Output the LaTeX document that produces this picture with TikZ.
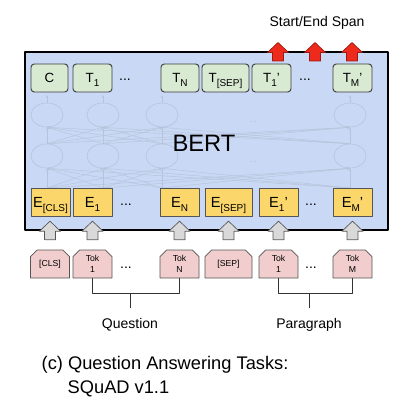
\documentclass[tikz,border=0pt]{standalone}
\usepackage{fontspec}
\setmainfont{Liberation Sans}
\usepackage{tikz}
\usetikzlibrary{arrows.meta,positioning,calc,shapes.misc,shapes.geometric}
\definecolor{bertblue}{HTML}{C9D9F5}
\definecolor{outgreen}{HTML}{D9EAD3}
\definecolor{embyellow}{HTML}{FBD66B}
\definecolor{tokpink}{HTML}{F1CDCD}
\definecolor{netgray}{HTML}{B7C3DB}
\definecolor{arrowgray}{HTML}{D9D9D9}
\definecolor{spanred}{HTML}{EE2A1C}
\definecolor{darkred}{HTML}{9A1B12}
\definecolor{edgegray}{HTML}{555555}
\newcommand{\lowsub}[1]{\raisebox{-3.3pt}{\fontsize{7.5}{8}\selectfont #1}}
\tikzset{
    every picture/.style={line join=round},
    bertbox/.style={draw=black,fill=bertblue,line width=1.2pt},
    outcell/.style={draw=edgegray!70!black,fill=outgreen,line width=0.7pt,rounded corners=2.5pt,
      minimum height=21pt,inner sep=1pt,text depth=0pt,font=\fontsize{10}{12}\selectfont},
    embcell/.style={draw=edgegray,fill=embyellow,line width=0.6pt,
      minimum height=21pt,inner sep=1pt,text depth=0pt,font=\fontsize{11}{13}\selectfont},
    tokcell/.style={chamfered rectangle,chamfered rectangle corners={north west,north east},
      chamfered rectangle xsep=2.5pt,chamfered rectangle ysep=2.5pt,
      draw=edgegray,fill=tokpink,line width=0.5pt,minimum height=21pt,inner sep=1pt,
      align=center,font=\fontsize{6.5}{8.5}\selectfont},
    neuron/.style={ellipse,draw=netgray,line width=0.45pt,minimum width=24pt,minimum height=18pt,inner sep=0pt},
    netline/.style={draw=netgray,line width=0.35pt,-{Stealth[length=2.2pt,width=1.8pt]}},
    bracket/.style={draw=black!80,line width=0.6pt},
    blockup/.pic={\draw[pic actions] (-5.5,0) -- (-5.5,-8.5) -- (-10.5,-8.5) -- (0,-18.5)
      -- (10.5,-8.5) -- (5.5,-8.5) -- (5.5,0) -- cycle;}
}

\begin{document}
\begin{tikzpicture}[x=0.75pt,y=-0.75pt,font=\fontsize{10.5}{12}\selectfont]
  \useasboundingbox (0,0) rectangle (407,416);
  \node[anchor=base] (span) at (317,27) {Start/End Span};
  \draw[bertbox] (25,52) rectangle (388,230);
  % faded transformer layers
  \foreach \x [count=\k] in {47,103,162,350}{
    \node[neuron] (u\k) at (\x,115) {};
    \node[neuron] (l\k) at (\x,156) {};
    \coordinate (o\k) at (\x,95);
    \coordinate (b\k) at (\x,188);
  }
  \foreach \i in {1,...,4}{
    \draw[netline] (u\i.north) -- (o\i);
    \foreach \j in {1,...,4}{
      \draw[netline] (l\j.north) -- (u\i.south);
      \draw[netline] (b\j) -- (l\i.south);
    }
  }
  \node[text=netgray,font=\fontsize{7}{8}\selectfont] (ndots1) at (253,122) {...};
  \node[text=netgray,font=\fontsize{7}{8}\selectfont] (ndots2) at (253,162) {...};
  \node[anchor=base,font=\fontsize{17.8}{20}\selectfont] (bert) at (204,152) {BERT};
  % output, embedding and token rows
  \foreach \n/\x/\w/\t in {c/49.5/27.75/C,t1/92.5/29.25/{T\lowsub{1}},tn/180/28.5/{T\lowsub{N}},
      tsep/225.5/35.25/{T\lowsub{[SEP]}},tp1/271.5/29.25/{T\lowsub{1}'},tpm/352.5/29.25/{T\lowsub{M}'}}
    \node[outcell,minimum width=\w pt] (\n) at (\x,78) {\t};
  \foreach \n/\x/\w/\t in {ecls/50.5/29.25/{E\lowsub{[CLS]}},e1/92.5/29.25/{E\lowsub{1}},en/179.5/29.25/{E\lowsub{N}},
      esep/228.5/35.25/{E\lowsub{[SEP]}},ep1/278.5/29.25/{E\lowsub{1}'},epm/352.5/29.25/{E\lowsub{M}'}}
    \node[embcell,minimum width=\w pt] (\n) at (\x,202) {\t};
  \foreach \n/\x/\w/\t in {kcls/50/29.25/{[CLS]},k1/92.5/29.25/{Tok\\1},kn/179.5/29.25/{Tok\\N},
      ksep/228.5/35.25/{[SEP]},kp1/278.5/29.25/{Tok\\1},kpm/352.5/29.25/{Tok\\M}}
    \node[tokcell,minimum width=\w pt] (\n) at (\x,264) {\t};
  \foreach \n/\x/\y in {tdots1/125/81,tdots2/305/81,edots1/126/205,edots2/311/205,kdots1/126/268,kdots2/311/268}
    \node[anchor=base] (\n) at (\x,\y) {...};
  % block arrows
  \foreach \n in {kcls,k1,kn,ksep,kp1,kpm}
    \pic[fill=arrowgray,draw=edgegray,line width=0.5pt] at ([yshift=7.5pt]\n.north) {blockup};
  \foreach \x in {278,315,352}
    \pic[fill=spanred,draw=darkred,line width=0.5pt] at (\x,61) {blockup};
  % segment brackets
  \draw[bracket] (k1.south) -- ++(0,15) coordinate (qbar) -| (kn.south);
  \node[anchor=base] (question) at (130,328) {Question};
  \draw[bracket] (qbar -| question.north) -- ++(0,15);
  \draw[bracket] (kp1.south) -- ++(0,15) coordinate (pbar) -| (kpm.south);
  \node[anchor=base] (paragraph) at (309,328) {Paragraph};
  \draw[bracket] (pbar -| paragraph.north) -- ++(0,15);
  \node[anchor=base west,font=\fontsize{13.7}{16}\selectfont] (cap1) at (37,369) {(c) Question Answering Tasks:};
  \node[anchor=base west,font=\fontsize{13.7}{16}\selectfont] (cap2) at (63,393) {SQuAD v1.1};
\end{tikzpicture}
\end{document}
